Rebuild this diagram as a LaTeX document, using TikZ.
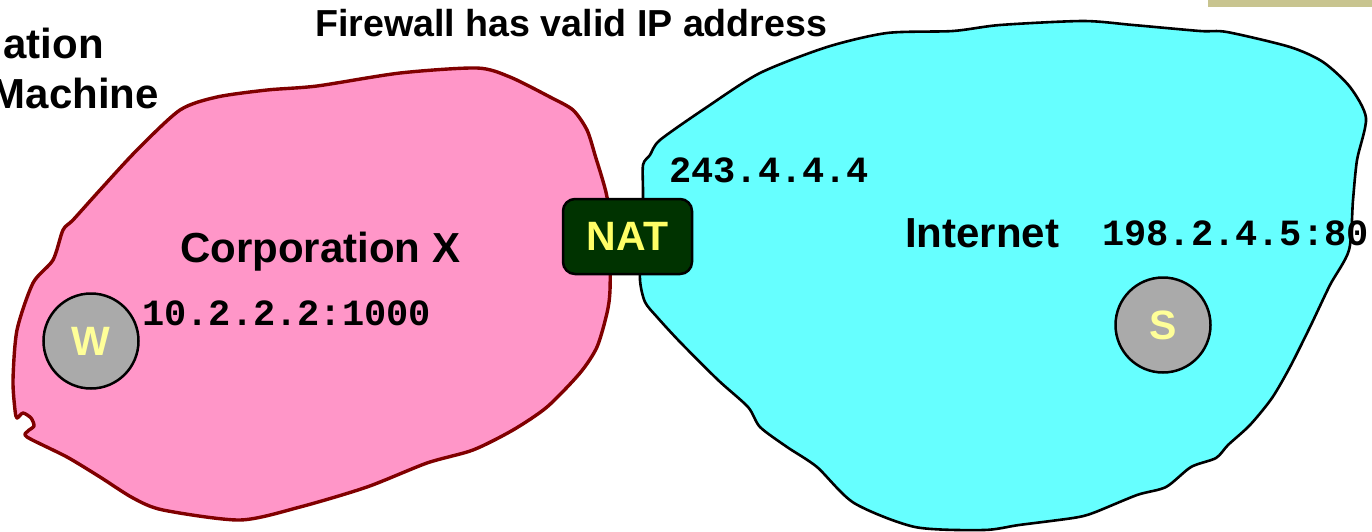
\documentclass[tikz,border=0pt]{standalone}
\usepackage{fontspec}
\setmainfont{Liberation Sans}
\newfontfamily\addrfont{Liberation Mono}
\definecolor{corpfill}{RGB}{255,150,200}
\definecolor{corpline}{RGB}{128,0,0}
\definecolor{netfill}{RGB}{102,255,255}
\definecolor{natfill}{RGB}{0,51,0}
\definecolor{nattext}{RGB}{255,255,102}
\definecolor{hostfill}{RGB}{170,170,170}
\definecolor{hosttext}{RGB}{255,255,153}
\definecolor{tabkhaki}{RGB}{200,196,143}
\begin{document}
\begin{tikzpicture}[x=1pt,y=-1pt,
  bigtext/.style={font=\fontsize{42}{50}\selectfont\bfseries, inner sep=0pt},
  toptext/.style={font=\fontsize{37.6}{44}\selectfont\bfseries, inner sep=0pt},
  addr/.style={font=\fontsize{37}{44}\selectfont\addrfont\bfseries, inner sep=0pt},
  host/.style={circle, draw=black, line width=2.5pt, fill=hostfill, minimum size=95pt,
    inner sep=0pt, text=hosttext, font=\fontsize{41}{48}\selectfont\bfseries},
  natbox/.style={draw=black, line width=2.5pt, fill=natfill, rounded corners=12pt,
    minimum width=129pt, minimum height=75pt, inner sep=0pt, text=nattext,
    font=\fontsize{41}{48}\selectfont\bfseries}]
\useasboundingbox (0,0) rectangle (1372,531);

% tab in the top right corner
\fill[tabkhaki] (1208,0) rectangle (1372,7);

% corporate network
\draw[corpline, fill=corpfill, line width=3.4pt, line join=round]
  plot[smooth cycle, tension=0.45] coordinates {
  (180,110) (217,97) (267,90) (317,86) (400,73) (477,68) (510,77) (550,97)
  (573,110) (587,130) (595,155) (607,197) (610,240) (610,290) (607,313)
  (597,347) (580,373) (547,407) (513,430) (473,450) (427,463) (367,487)
  (300,507) (240,520) (163,510) (133,498) (100,477) (67,457) (27,437)
  (28,431) (34,426) (31,418) (23,413) (17,418) (15,410) (13,380) (17,330)
  (33,283) (53,260) (63,230) (73,220) (100,190) (137,150)};

% the internet
\draw[black, fill=netfill, line width=2.6pt, line join=round]
  plot[smooth cycle, tension=0.45] coordinates {
  (643,197) (643,165) (650,155) (660,140) (707,107) (760,73) (827,47)
  (887,33) (953,31) (1000,25) (1083,21) (1133,25) (1200,31) (1227,32)
  (1290,47) (1323,62) (1350,87) (1366,118) (1357,160) (1353,200)
  (1349,250) (1330,285) (1310,327) (1290,367) (1272,398) (1250,425)
  (1228,445) (1216,458) (1191,467) (1166,487) (1137,495) (1093,513)
  (1073,518) (1019,525) (984,530) (915,527) (854,503) (817,467) (787,447)
  (760,427) (748,407) (718,380) (680,342) (657,317) (645,302) (640,280)
  (641,240)};

% headings
\node[toptext, anchor=base west] (fw) at (315,36) {Firewall has valid IP address};
\node[bigtext, anchor=base east] (ws1) at (104,58) {ation};
\node[bigtext, anchor=base east] (ws2) at (159,108) {Machine};
\node[bigtext, anchor=base west] (corp) at (180,262) {Corporation X};
\node[bigtext, anchor=base west] (inet) at (905,247) {Internet};

% addresses
\node[addr, anchor=base west] (natip) at (669,182) {243.4.4.4};
\node[addr, anchor=base west] (wip) at (142,325) {10.2.2.2:1000};
\node[addr, anchor=base west] (sip) at (1102,245) {198.2.4.5:80};

% hosts and the translator
\node[host] (w) at (91,341) {W};
\node[host] (s) at (1163,325) {S};
\node[natbox] (nat) at (627.5,236.5) {NAT};
\end{tikzpicture}
\end{document}
